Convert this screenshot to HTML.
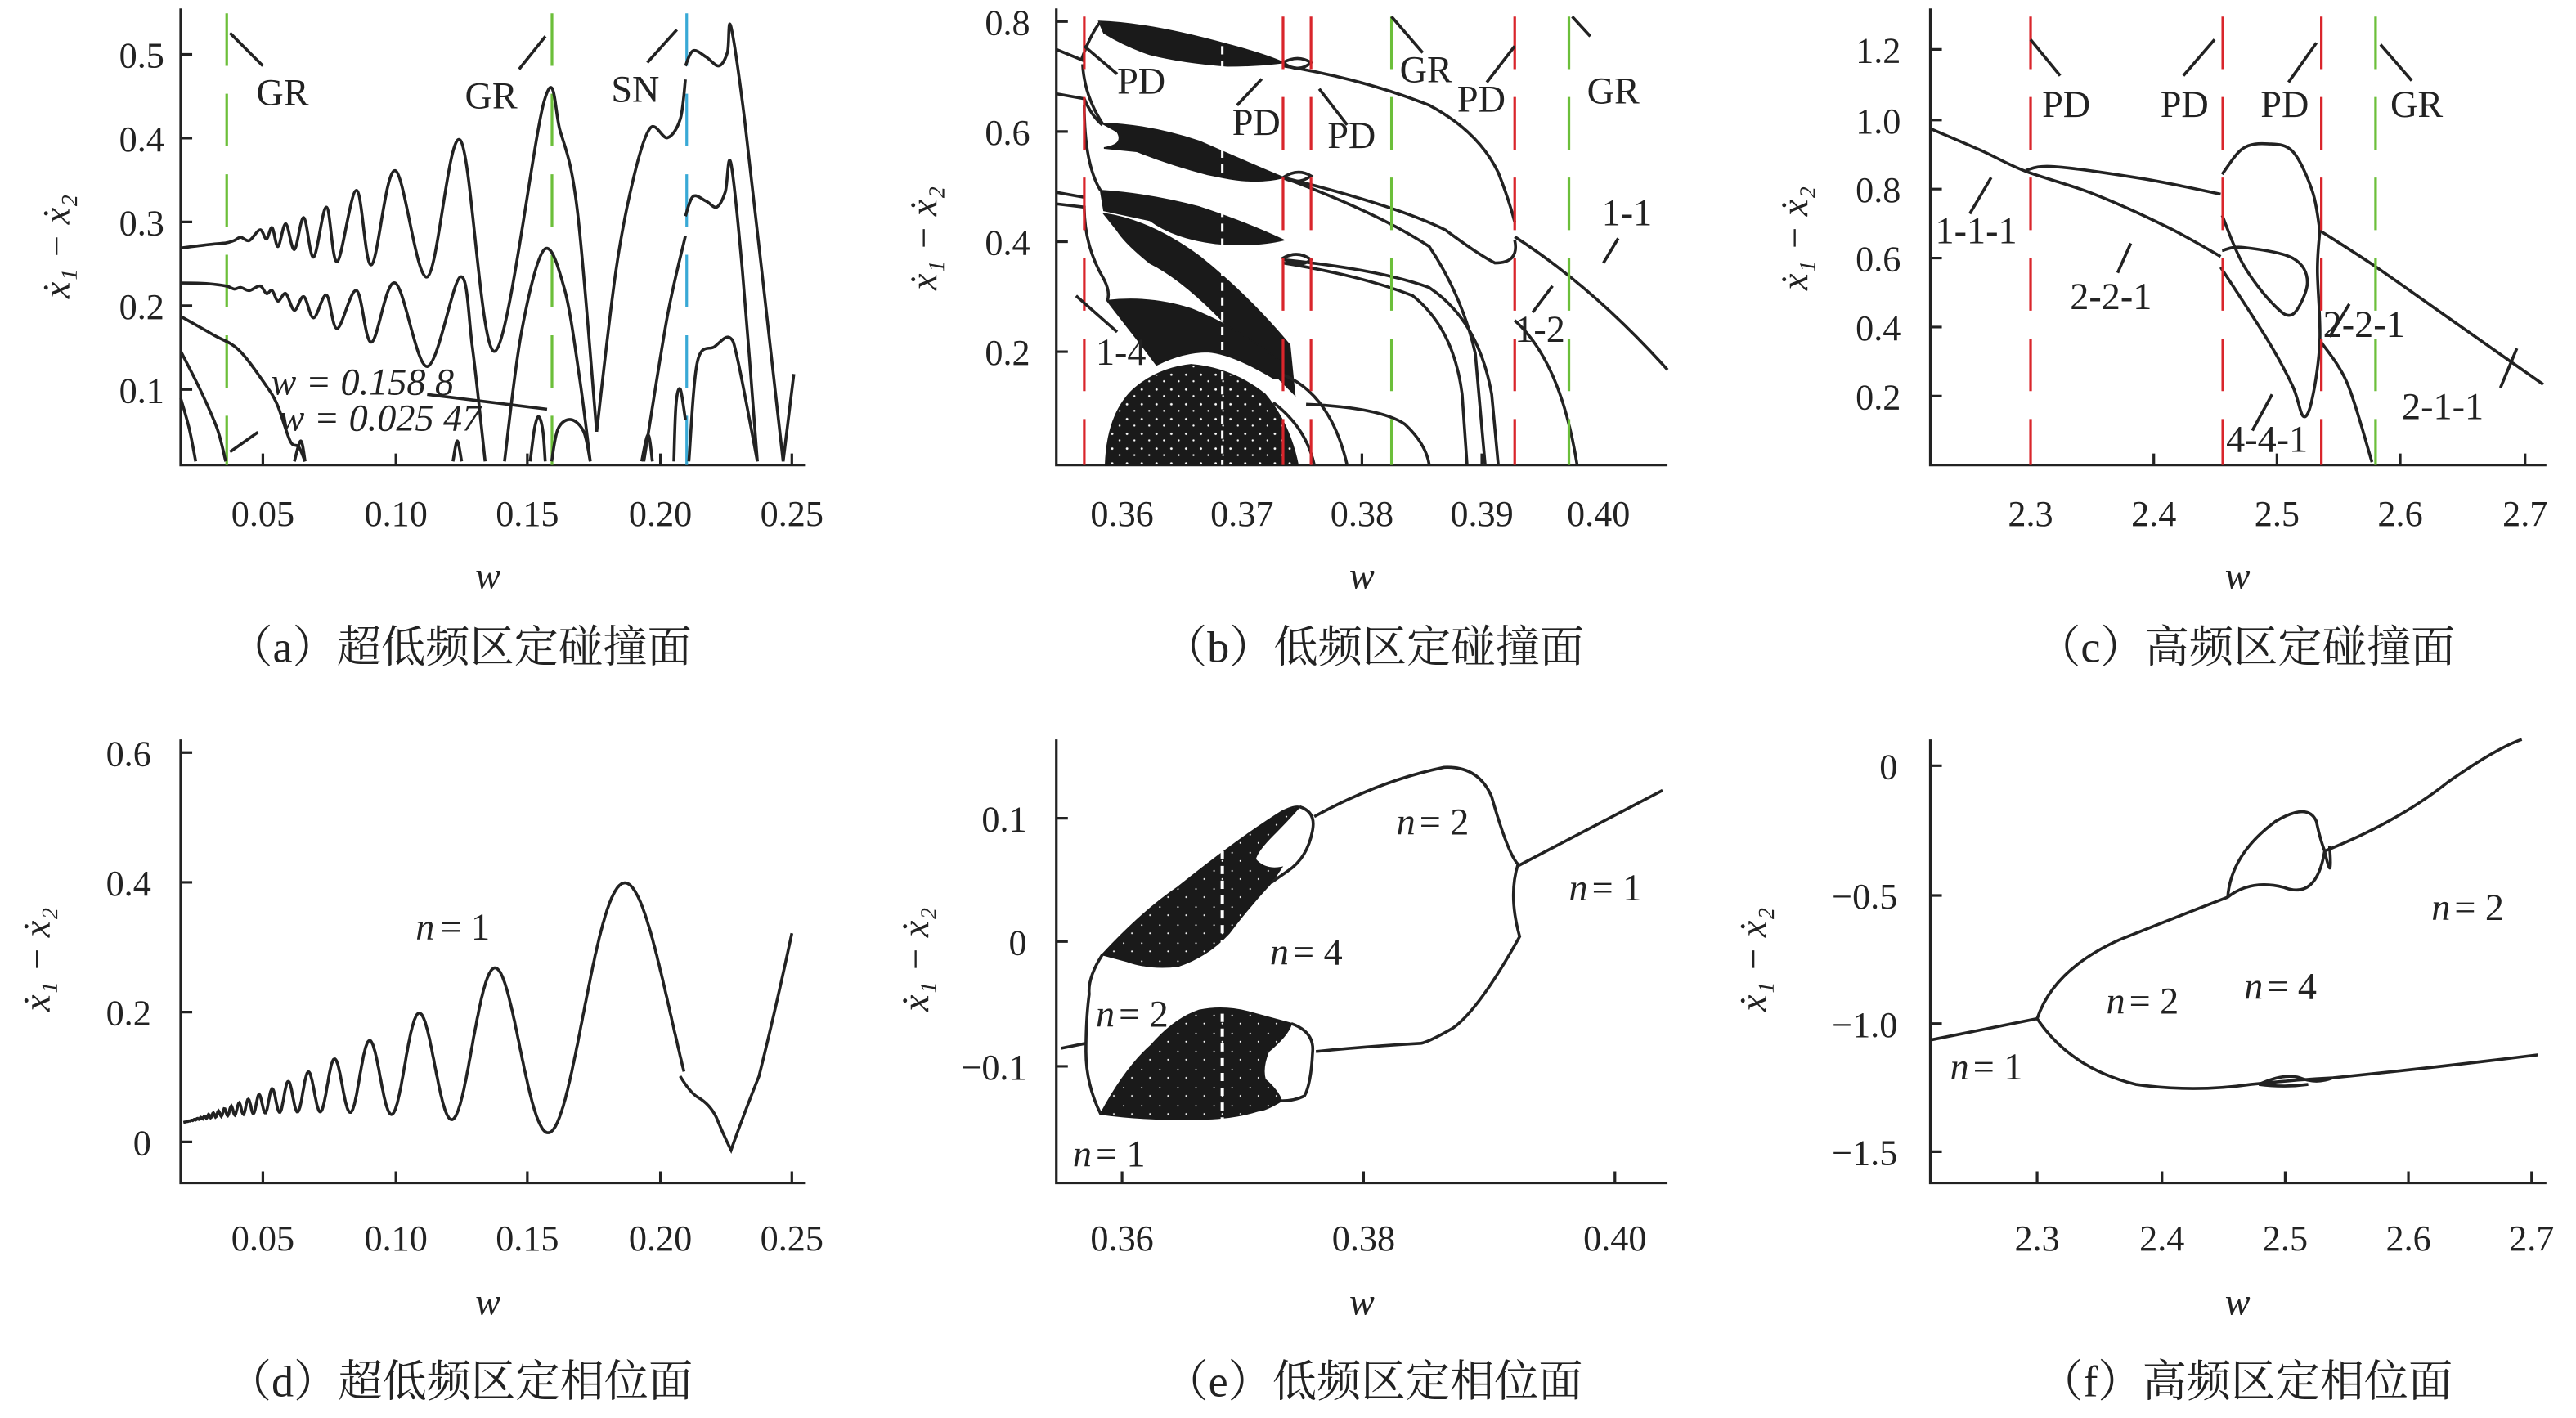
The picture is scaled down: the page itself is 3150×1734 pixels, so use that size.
<!DOCTYPE html>
<html><head><meta charset="utf-8">
<style>
html,body{margin:0;padding:0;background:#fff;}
svg{display:block;}
text{font-family:"Liberation Serif","Noto Serif CJK SC",serif;fill:#222;}
.t{font-size:22px;}
.lab{font-size:23px;}
.cap{font-size:27px;}
.ax{stroke:#222;stroke-width:1.6;fill:none;}
.c{stroke:#222;stroke-width:1.8;fill:none;}
.r{stroke:#d9252b;stroke-width:1.6;stroke-dasharray:32 17;fill:none;}
.g{stroke:#6cbf3a;stroke-width:1.6;stroke-dasharray:32 17;fill:none;}
.b{stroke:#39a9d6;stroke-width:1.6;stroke-dasharray:32 17;fill:none;}
.k{fill:#1a1a1a;stroke:#1a1a1a;stroke-width:1;}
.s{fill:url(#sp);stroke:#1a1a1a;stroke-width:1;}
</style></head><body>
<svg width="3150" height="1734" viewBox="0 0 1568 863" xmlns="http://www.w3.org/2000/svg">
<defs>
<pattern id="sp" width="9" height="9" patternUnits="userSpaceOnUse">
<rect width="9" height="9" fill="#1a1a1a"/>
<circle cx="2" cy="3" r="0.7" fill="#fff"/><circle cx="6.5" cy="7" r="0.6" fill="#fff"/>
</pattern>
<pattern id="sp2" width="11" height="11" patternUnits="userSpaceOnUse">
<rect width="11" height="11" fill="#1a1a1a"/>
<circle cx="2" cy="2" r="0.5" fill="#fff"/><circle cx="7" cy="7" r="0.5" fill="#fff"/>
</pattern>
</defs>
<!-- ============ (a) ============ -->
<g>
<path class="ax" d="M110,5 V283 H490"/>
<g class="ax"><path d="M110,33h7M110,84h7M110,135h7M110,186h7M110,237h7M160,283v-7M241,283v-7M321,283v-7M402,283v-7M482,283v-7"/></g>
<text class="t" x="100" y="41" text-anchor="end">0.5</text>
<text class="t" x="100" y="92" text-anchor="end">0.4</text>
<text class="t" x="100" y="143" text-anchor="end">0.3</text>
<text class="t" x="100" y="194" text-anchor="end">0.2</text>
<text class="t" x="100" y="245" text-anchor="end">0.1</text>
<text class="t" x="160" y="320" text-anchor="middle">0.05</text>
<text class="t" x="241" y="320" text-anchor="middle">0.10</text>
<text class="t" x="321" y="320" text-anchor="middle">0.15</text>
<text class="t" x="402" y="320" text-anchor="middle">0.20</text>
<text class="t" x="482" y="320" text-anchor="middle">0.25</text>
<text class="lab" x="297" y="358" font-style="italic" text-anchor="middle">w</text>
<text class="lab" x="42" y="150" transform="rotate(-90 42 150)" text-anchor="middle" font-style="italic">ẋ₁ − ẋ₂</text>
<text class="cap" x="280" y="403" text-anchor="middle">（a）超低频区定碰撞面</text>
<path class="g" d="M138,8V283"/><path class="g" d="M336,8V283"/><path class="b" d="M418,8V283"/>
<g id="acurves"></g>
<path class="c" d="M140,20 L160,40 M316,42 L332,22 M394,38 L412,18"/>
<text class="lab" x="156" y="64">GR</text>
<text class="lab" x="283" y="66">GR</text>
<text class="lab" x="372" y="62">SN</text>
<text class="lab" x="165" y="240" font-style="italic">w = 0.158 8</text>
<text class="lab" x="170" y="262" font-style="italic">w = 0.025 47</text>
<path class="c" d="M260,240 L333,249 M140,275 L157,263"/>
</g>
<!-- ============ (b) ============ -->
<g>
<path class="ax" d="M643,5 V283 H1015"/>
<g class="ax"><path d="M643,13h7M643,80h7M643,147h7M643,214h7M829,283v-7M902,283v-7"/></g>
<text class="t" x="627" y="21" text-anchor="end">0.8</text>
<text class="t" x="627" y="88" text-anchor="end">0.6</text>
<text class="t" x="627" y="155" text-anchor="end">0.4</text>
<text class="t" x="627" y="222" text-anchor="end">0.2</text>
<text class="t" x="683" y="320" text-anchor="middle">0.36</text>
<text class="t" x="756" y="320" text-anchor="middle">0.37</text>
<text class="t" x="829" y="320" text-anchor="middle">0.38</text>
<text class="t" x="902" y="320" text-anchor="middle">0.39</text>
<text class="t" x="973" y="320" text-anchor="middle">0.40</text>
<text class="lab" x="829" y="358" font-style="italic" text-anchor="middle">w</text>
<text class="lab" x="570" y="145" transform="rotate(-90 570 145)" text-anchor="middle" font-style="italic">ẋ₁ − ẋ₂</text>
<text class="cap" x="836" y="403" text-anchor="middle">（b）低频区定碰撞面</text>
<path class="k" d="M669,13 Q700,14 747,27 Q770,33 781,38 Q765,40 747,40 Q720,38 700,33 Q685,28 672,20 Z"/>
<path class="k" d="M671,75 Q700,76 730,86 Q755,97 781,108 Q765,112 745,108 L735,106 Q712,100 692,92 L672,90 Q685,88 680,80 Z"/>
<path class="k" d="M670,116 Q700,118 730,126 Q760,136 781,146 Q765,150 740,148 Q715,145 700,134 L672,128 Z"/>
<path class="k" d="M672,130 Q700,134 730,156 Q760,180 785,210 L788,240 Q770,222 745,196 Q720,170 700,160 Q685,148 680,140 Z"/>
<path class="k" d="M674,183 Q700,180 725,188 Q755,200 782,222 Q785,232 775,230 Q750,215 735,214 Q720,214 704,222 L695,210 Q684,196 674,183 Z"/>
<path class="s" d="M673,283 Q674,252 690,237 Q705,224 725,222 Q750,224 770,240 Q785,258 790,283 Z"/>
<path d="M744,10V283" stroke="#fff" stroke-width="1.5" stroke-dasharray="5 4"/>
<path class="c" d="M643,30 L660,37 M658,37 Q664,20 670,13 M659,39 Q660,58 671,75 M643,57 L660,60 Q664,70 671,76 M660,64 Q660,100 670,116 M643,117 L660,120 M643,124 L660,126 Q660,150 672,170 Q676,178 674,183"/>
<path class="c" d="M781,40 Q830,48 870,64 Q900,80 912,105 Q918,120 922,135 M922,144 Q970,175 1015,225"/>
<path class="c" d="M781,108 Q850,125 880,140 Q900,155 910,160 Q925,160 922,146 M781,108 Q840,130 870,150 Q890,180 898,215 L904,283"/>
<path class="c" d="M781,158 Q840,164 870,175 Q900,195 908,240 L912,283"/>
<path class="c" d="M781,160 Q830,168 860,180 Q885,200 890,240 L893,283"/>
<path class="c" d="M795,246 Q840,248 855,258 Q868,270 870,283"/>
<path class="c" d="M781,228 Q810,240 820,283 M775,245 Q795,260 800,283 M781,38 Q790,33 798,38 Q790,45 781,38 Z M781,108 Q790,102 798,107 Q790,113 781,108Z M781,157 Q790,152 798,158 Q790,164 781,157Z"/>
<path class="c" d="M922,195 Q950,220 960,283"/>
<path class="r" d="M660,10V283 M781,10V283 M798,10V283 M922,10V283"/>
<path class="g" d="M847,10V283 M955,10V283"/>
<path class="c" d="M660,28 L680,45 M768,48 L753,64 M803,54 L820,76 M847,10 L866,32 M905,50 L922,28 M957,10 L968,22 M985,145 L976,160 M933,190 L945,174 M655,180 L680,202"/>
<text class="lab" x="680" y="57">PD</text>
<text class="lab" x="750" y="82">PD</text>
<text class="lab" x="808" y="90">PD</text>
<text class="lab" x="852" y="50">GR</text>
<text class="lab" x="887" y="68">PD</text>
<text class="lab" x="966" y="63">GR</text>
<text class="lab" x="975" y="137">1-1</text>
<text class="lab" x="922" y="208">1-2</text>
<text class="lab" x="667" y="222">1-4</text>
</g>
<!-- ============ (c) ============ -->
<g>
<path class="ax" d="M1175,5 V283 H1550"/>
<g class="ax"><path d="M1175,30h7M1175,73h7M1175,115h7M1175,157h7M1175,199h7M1175,241h7M1311,283v-7M1461,283v-7M1386,283v-7M1537,283v-7"/></g>
<text class="t" x="1157" y="38" text-anchor="end">1.2</text>
<text class="t" x="1157" y="81" text-anchor="end">1.0</text>
<text class="t" x="1157" y="123" text-anchor="end">0.8</text>
<text class="t" x="1157" y="165" text-anchor="end">0.6</text>
<text class="t" x="1157" y="207" text-anchor="end">0.4</text>
<text class="t" x="1157" y="249" text-anchor="end">0.2</text>
<text class="t" x="1236" y="320" text-anchor="middle">2.3</text>
<text class="t" x="1311" y="320" text-anchor="middle">2.4</text>
<text class="t" x="1386" y="320" text-anchor="middle">2.5</text>
<text class="t" x="1461" y="320" text-anchor="middle">2.6</text>
<text class="t" x="1537" y="320" text-anchor="middle">2.7</text>
<text class="lab" x="1362" y="358" font-style="italic" text-anchor="middle">w</text>
<text class="lab" x="1100" y="145" transform="rotate(-90 1100 145)" text-anchor="middle" font-style="italic">ẋ₁ − ẋ₂</text>
<text class="cap" x="1367" y="403" text-anchor="middle">（c）高频区定碰撞面</text>
<path id="c1" class="c"/><path id="c2" class="c"/><path id="c3" class="c"/><path id="c4" class="c"/><path id="c5" class="c"/><path id="c6" class="c"/><path id="c7" class="c"/>
<path class="r" d="M1236,10V283 M1353,10V283 M1413,10V283"/>
<path class="g" d="M1446,10V283"/>
<path class="c" d="M1236,24 L1254,46 M1329,46 L1348,24 M1393,50 L1410,26 M1449,27 L1468,49 M1212,108 L1199,130 M1297,148 L1289,166 M1418,205 L1430,185 M1532,212 L1522,236 M1383,240 L1371,262"/>
<text class="lab" x="1243" y="71">PD</text>
<text class="lab" x="1315" y="71">PD</text>
<text class="lab" x="1376" y="71">PD</text>
<text class="lab" x="1455" y="71">GR</text>
<text class="lab" x="1178" y="148">1-1-1</text>
<text class="lab" x="1260" y="188">2-2-1</text>
<text class="lab" x="1414" y="205">2-2-1</text>
<text class="lab" x="1462" y="255">2-1-1</text>
<text class="lab" x="1355" y="275">4-4-1</text>
</g>
<!-- ============ (d) ============ -->
<g>
<path class="ax" d="M110,450 V720 H490"/>
<g class="ax"><path d="M110,458h7M110,537h7M110,616h7M110,695h7M160,720v-7M241,720v-7M321,720v-7M402,720v-7M482,720v-7"/></g>
<text class="t" x="92" y="466" text-anchor="end">0.6</text>
<text class="t" x="92" y="545" text-anchor="end">0.4</text>
<text class="t" x="92" y="624" text-anchor="end">0.2</text>
<text class="t" x="92" y="703" text-anchor="end">0</text>
<text class="t" x="160" y="761" text-anchor="middle">0.05</text>
<text class="t" x="241" y="761" text-anchor="middle">0.10</text>
<text class="t" x="321" y="761" text-anchor="middle">0.15</text>
<text class="t" x="402" y="761" text-anchor="middle">0.20</text>
<text class="t" x="482" y="761" text-anchor="middle">0.25</text>
<text class="lab" x="297" y="800" font-style="italic" text-anchor="middle">w</text>
<text class="lab" x="30" y="584" transform="rotate(-90 30 584)" text-anchor="middle" font-style="italic">ẋ₁ − ẋ₂</text>
<text class="cap" x="280" y="850" text-anchor="middle">（d）超低频区定相位面</text>
<path id="d1" class="c"/>
<path class="c" d="M414,655 Q420,665 425,668 Q432,672 436,680 Q440,690 445,700 Q452,680 462,655 Q472,615 482,568"/>
<text class="lab" x="253" y="572" font-style="italic">n</text><text class="lab" x="268" y="572">= 1</text>
</g>
<!-- ============ (e) ============ -->
<g>
<path class="ax" d="M643,450 V720 H1015"/>
<g class="ax"><path d="M643,498h7M643,573h7M643,649h7M683,720v-7M830,720v-7M983,720v-7"/></g>
<text class="t" x="625" y="506" text-anchor="end">0.1</text>
<text class="t" x="625" y="581" text-anchor="end">0</text>
<text class="t" x="625" y="657" text-anchor="end">−0.1</text>
<text class="t" x="683" y="761" text-anchor="middle">0.36</text>
<text class="t" x="830" y="761" text-anchor="middle">0.38</text>
<text class="t" x="983" y="761" text-anchor="middle">0.40</text>
<text class="lab" x="829" y="800" font-style="italic" text-anchor="middle">w</text>
<text class="lab" x="565" y="584" transform="rotate(-90 565 584)" text-anchor="middle" font-style="italic">ẋ₁ − ẋ₂</text>
<text class="cap" x="836" y="850" text-anchor="middle">（e）低频区定相位面</text>
<path class="s" d="M671,581 Q695,555 717,540 Q753,511 780,494 Q788,490 791,491 Q785,498 775,508 Q765,518 764,523 Q770,530 780,528 L774,537 Q760,552 748,568 Q735,582 717,588 Q700,590 686,585 Z" style="fill:url(#sp2)"/>
<path class="s" d="M670,678 Q685,650 701,636 Q715,620 730,615 Q745,612 760,616 Q775,620 786,623 Q784,630 772,640 Q768,650 770,657 Q778,664 780,670 Q770,676 766,676 Q750,681 730,681 Q700,682 670,678 Z" style="fill:url(#sp2)"/>
<path d="M744,500V690" stroke="#fff" stroke-width="2" stroke-dasharray="5 4"/>
<path class="c" d="M791,491 Q801,494 799,505 Q796,522 784,530 L774,537 M786,623 Q800,628 799,640 Q798,660 794,667 Q788,670 780,670"/>
<path class="c" d="M646,638 L661,635 M671,581 Q662,595 663,605 Q661,620 661,640 Q661,660 670,678"/>
<path class="c" d="M800,497 Q840,475 879,467 Q900,466 908,485 Q918,520 924,526 Q918,545 925,570 Q900,615 884,626 Q870,634 865,635 Q830,637 801,640"/>
<path class="c" d="M924,527 L1012,481"/>
<text class="lab" x="850" y="508" font-style="italic">n</text><text class="lab" x="864" y="508">= 2</text>
<text class="lab" x="955" y="548" font-style="italic">n</text><text class="lab" x="969" y="548">= 1</text>
<text class="lab" x="773" y="587" font-style="italic">n</text><text class="lab" x="787" y="587">= 4</text>
<text class="lab" x="667" y="625" font-style="italic">n</text><text class="lab" x="681" y="625">= 2</text>
<text class="lab" x="653" y="710" font-style="italic">n</text><text class="lab" x="667" y="710">= 1</text>
</g>
<!-- ============ (f) ============ -->
<g>
<path class="ax" d="M1175,450 V720 H1550"/>
<g class="ax"><path d="M1175,466h7M1175,545h7M1175,623h7M1175,701h7M1240,720v-7M1316,720v-7M1391,720v-7M1466,720v-7M1541,720v-7"/></g>
<text class="t" x="1155" y="474" text-anchor="end">0</text>
<text class="t" x="1155" y="553" text-anchor="end">−0.5</text>
<text class="t" x="1155" y="631" text-anchor="end">−1.0</text>
<text class="t" x="1155" y="709" text-anchor="end">−1.5</text>
<text class="t" x="1240" y="761" text-anchor="middle">2.3</text>
<text class="t" x="1316" y="761" text-anchor="middle">2.4</text>
<text class="t" x="1391" y="761" text-anchor="middle">2.5</text>
<text class="t" x="1466" y="761" text-anchor="middle">2.6</text>
<text class="t" x="1541" y="761" text-anchor="middle">2.7</text>
<text class="lab" x="1362" y="800" font-style="italic" text-anchor="middle">w</text>
<text class="lab" x="1075" y="584" transform="rotate(-90 1075 584)" text-anchor="middle" font-style="italic">ẋ₁ − ẋ₂</text>
<text class="cap" x="1367" y="850" text-anchor="middle">（f）高频区定相位面</text>
<path class="c" d="M1175,633 L1240,620 Q1250,590 1290,572 Q1330,556 1356,546"/>
<path class="c" d="M1356,546 Q1358,520 1385,500 Q1405,488 1410,500 Q1412,510 1415,518 Q1420,540 1418,515 M1356,546 Q1370,535 1390,540 Q1410,548 1415,518"/>
<path class="c" d="M1415,518 Q1460,500 1490,476 Q1520,455 1535,450"/>
<path class="c" d="M1240,620 Q1260,650 1300,660 Q1335,665 1370,660 Q1400,657 1420,656 Q1480,650 1545,642"/>
<path class="c" d="M1375,660 Q1390,653 1400,656 Q1410,660 1420,656 M1375,660 Q1390,662 1405,660"/>
<text class="lab" x="1187" y="657" font-style="italic">n</text><text class="lab" x="1201" y="657">= 1</text>
<text class="lab" x="1282" y="617" font-style="italic">n</text><text class="lab" x="1296" y="617">= 2</text>
<text class="lab" x="1366" y="608" font-style="italic">n</text><text class="lab" x="1380" y="608">= 4</text>
<text class="lab" x="1480" y="560" font-style="italic">n</text><text class="lab" x="1494" y="560">= 2</text>
</g>
</svg>
<script>
(function(){
var NS="http://www.w3.org/2000/svg";
function cr(p){var s="M"+p[0][0].toFixed(1)+","+p[0][1].toFixed(1);
 for(var i=0;i<p.length-1;i++){var p0=p[i-1]||p[i],p1=p[i],p2=p[i+1],p3=p[i+2]||p2;
  var c1=[p1[0]+(p2[0]-p0[0])/6,p1[1]+(p2[1]-p0[1])/6],c2=[p2[0]-(p3[0]-p1[0])/6,p2[1]-(p3[1]-p1[1])/6];
  s+="C"+c1[0].toFixed(1)+","+c1[1].toFixed(1)+" "+c2[0].toFixed(1)+","+c2[1].toFixed(1)+" "+p2[0].toFixed(1)+","+p2[1].toFixed(1);}
 return s;}
function ta(p){return p.map(function(q){return [110+(q[0]-45)*0.261,33+(q[1]-187)*0.1848];});}
var A=[
[[45,825],[100,815],[150,808],[170,800],[185,790],[205,800],[230,765],[245,795],[258,758],[272,820],[290,745],[310,830],[332,725],[355,855],[385,690],[410,870],[455,635],[490,880],[545,570],[620,920],[697,470],[778,1165],[893,340],[930,440],[970,700],[1015,1430]],
[[1015,1430],[1060,900],[1100,600],[1140,430],[1180,462],[1210,400],[1222,270]],
[[1222,225],[1240,175],[1270,195],[1300,225],[1320,180],[1328,95],[1360,400],[1400,900],[1450,1528]],
[[45,940],[100,942],[150,950],[170,960],[185,955],[205,965],[230,950],[245,975],[258,965],[272,1000],[290,975],[310,1030],[332,985],[355,1055],[385,980],[410,1090],[455,965],[490,1135],[545,940],[620,1215],[697,920],[725,1150],[755,1528]],
[[800,1528],[840,1100],[893,830],[940,960],[975,1250],[1000,1528]],
[[1125,1528],[1180,1050],[1222,785]],
[[1222,720],[1240,655],[1270,670],[1295,690],[1315,640],[1328,545],[1355,900],[1390,1528]],
[[45,1050],[120,1110],[180,1160],[240,1270],[270,1340],[300,1460],[320,1480],[335,1528]],
[[45,1165],[90,1290],[130,1420],[150,1528]],
[[45,1320],[65,1420],[80,1528]],
[[910,1528],[925,1420],[955,1390],[985,1430],[1000,1528]],
[[860,1528],[870,1420],[880,1380],[890,1430],[895,1528]],
[[1195,1528],[1200,1340],[1210,1290],[1222,1390]],
[[1230,1528],[1250,1200],[1290,1150],[1325,1120],[1345,1200],[1390,1528]],
[[1120,1528],[1135,1440],[1145,1528]],
[[1450,1528],[1475,1240]],
[[310,1528],[325,1460],[335,1528]],
[[680,1528],[690,1460],[700,1528]]
];
var g=document.getElementById("acurves");
A.forEach(function(p){var e=document.createElementNS(NS,"path");e.setAttribute("class","c");e.setAttribute("d",cr(ta(p)));g.appendChild(e);});
function tc(p){return p.map(function(q){return [1175+(q[0]-270)*0.302,30+(q[1]-175)*0.1854];});}
var C=[
[[270,435],[370,505],[462,575],[600,650],[750,760],[855,855]],
[[462,572],[520,560],[700,600],[855,650]],
[[858,585],[900,500],[950,485],[1000,510],[1040,640],[1055,770]],
[[1055,770],[1160,880],[1300,1040],[1505,1275]],
[[858,720],[900,880],[960,1010],[1000,1045],[1030,940],[1000,860],[900,825],[858,835]],
[[855,890],[950,1130],[1000,1280],[1022,1380],[1040,1320],[1055,1130],[1050,900],[1055,770]],
[[1055,1130],[1110,1270],[1160,1530]]
];
C.forEach(function(p,i){document.getElementById("c"+(i+1)).setAttribute("d",cr(tc(p)));});
function X(w){return 160+(w-0.05)*1612;}
var Yd=function(v){return 695-v*395;};
var s="";for(var i=0;i<=700;i++){var w=0.02+(0.209-0.02)*i/700;var Am=0.125*Math.pow((w-0.02)/0.12,1.5);var v=0.03+(w-0.02)+Am*Math.cos(2*Math.PI*(1/w-5.4)/1.9);s+=(i?"L":"M")+X(w).toFixed(1)+","+Yd(v).toFixed(1);}
document.getElementById("d1").setAttribute("d",s);
})();
</script>
</body></html>
